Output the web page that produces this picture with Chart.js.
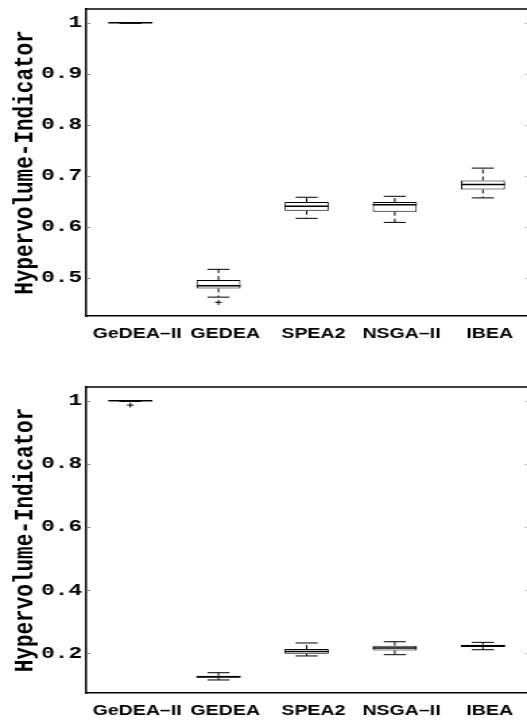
<!DOCTYPE html>
<html>
<head>
<meta charset="utf-8">
<title>Hypervolume-Indicator box plots</title>
<script src="https://cdn.jsdelivr.net/npm/chart.js@4.4.1/dist/chart.umd.min.js"></script>
<style>
  html, body { margin: 0; padding: 0; background: #fff; overflow: hidden; }
  /* the original figure is stretched sideways, so draw narrow and widen */
  .panel {
    position: absolute;
    left: 0;
    width: 391px;
    transform: scaleX(1.3478);
    transform-origin: 0 0;
  }
  #panelTop { top: 0; height: 345px; }
  #panelBottom { top: 345px; height: 377px; }
</style>
</head>
<body>
<div class="panel" id="panelTop"><canvas id="chartTop"></canvas></div>
<div class="panel" id="panelBottom"><canvas id="chartBottom"></canvas></div>

<script>
// ============================================
// DATA
// ============================================

const CATEGORIES = ['GeDEA\u2013II', 'GEDEA', 'SPEA2', 'NSGA\u2013II', 'IBEA'];

// top panel
const topLow      = [0.999, 0.462, 0.6165, 0.6085, 0.6566];
const topQ1       = [0.9995, 0.479, 0.6315, 0.6295, 0.673];
const topMedian   = [1.0, 0.4843, 0.640, 0.6432, 0.683];
const topQ3       = [1.0, 0.4955, 0.6485, 0.6485, 0.6908];
const topHigh     = [1.0, 0.5165, 0.6578, 0.6597, 0.715];
const topOutliers = [null, 0.4517, null, null, null];
const topTicks    = [0.5, 0.6, 0.7, 0.8, 0.9, 1];

// bottom panel
const bottomLow      = [0.998, 0.116, 0.192, 0.196, 0.2117];
const bottomQ1       = [0.999, 0.123, 0.199, 0.2095, 0.220];
const bottomMedian   = [1.0, 0.126, 0.206, 0.217, 0.224];
const bottomQ3       = [1.0, 0.129, 0.214, 0.2245, 0.2275];
const bottomHigh     = [1.0, 0.139, 0.233, 0.237, 0.235];
const bottomOutliers = [0.986, null, null, null, null];
const bottomTicks    = [0.2, 0.4, 0.6, 0.8, 1];

// ============================================
// STYLE
// ============================================

const MONO = "'Liberation Mono', 'DejaVu Sans Mono', monospace";
const SANS = "'Liberation Sans', Arial, sans-serif";
const INK = '#000';

// ============================================
// PLUGINS
// ============================================

/**
 * Whiskers, caps and median line on top of the floating bars
 */
const boxWhiskers = {
  id: 'boxWhiskers',
  afterDatasetsDraw(chart) {
    const ds = chart.data.datasets[0];
    const meta = chart.getDatasetMeta(0);
    const y = chart.scales.y;
    const ctx = chart.ctx;

    const line = (x1, y1, x2, y2) => {
      ctx.beginPath();
      ctx.moveTo(x1, y1);
      ctx.lineTo(x2, y2);
      ctx.stroke();
    };

    ctx.save();
    ctx.strokeStyle = INK;
    meta.data.forEach((bar, i) => {
      const x = bar.x;
      const half = bar.width / 2;
      const cap = half / 2;
      const yLow = y.getPixelForValue(ds.low[i]);
      const yQ1 = y.getPixelForValue(ds.data[i][0]);
      const yQ3 = y.getPixelForValue(ds.data[i][1]);
      const yHigh = y.getPixelForValue(ds.high[i]);
      const yMed = y.getPixelForValue(ds.median[i]);

      // dashed whiskers
      ctx.lineWidth = 1;
      ctx.setLineDash([4, 3]);
      line(x, yQ3, x, yHigh);
      line(x, yQ1, x, yLow);
      ctx.setLineDash([]);

      // caps
      line(x - cap, yHigh, x + cap, yHigh);
      line(x - cap, yLow, x + cap, yLow);

      // median
      ctx.lineWidth = 1.5;
      line(x - half, yMed, x + half, yMed);
    });
    ctx.restore();
  }
};

/**
 * Top edge of the frame and the small inward ticks at both sides
 */
const frame = {
  id: 'frame',
  afterDraw(chart) {
    const { left, right, top } = chart.chartArea;
    const ctx = chart.ctx;
    const y = chart.scales.y;
    ctx.save();
    ctx.strokeStyle = INK;
    ctx.lineWidth = 1.5;
    ctx.beginPath();
    ctx.moveTo(left, top);
    ctx.lineTo(right + 2, top);
    ctx.stroke();

    ctx.lineWidth = 1;
    y.ticks.forEach(t => {
      const py = Math.round(y.getPixelForValue(t.value)) + 0.5;
      ctx.strokeStyle = '#888';
      ctx.beginPath();
      ctx.moveTo(left, py);
      ctx.lineTo(left + 3, py);
      ctx.stroke();
      ctx.strokeStyle = '#ccc';
      ctx.beginPath();
      ctx.moveTo(right - 2, py);
      ctx.lineTo(right, py);
      ctx.stroke();
    });
    ctx.restore();
  }
};

// ============================================
// CHART FACTORY
// ============================================

function buildBoxChart(canvasId, stats, range, ticks, padTop) {
  const ctx = document.getElementById(canvasId).getContext('2d');

  return new Chart(ctx, {
    type: 'bar',
    data: {
      labels: CATEGORIES,
      datasets: [
        {
          label: 'box',
          data: stats.q1.map((v, i) => [v, stats.q3[i]]),
          low: stats.low,
          median: stats.median,
          high: stats.high,
          backgroundColor: '#fff',
          borderColor: INK,
          borderWidth: 1,
          borderSkipped: false,
          categoryPercentage: 1,
          barPercentage: 0.5
        },
        {
          type: 'line',
          label: 'outliers',
          data: stats.outliers,
          showLine: false,
          pointStyle: 'cross',
          pointRadius: 2.5,
          pointBorderWidth: 1,
          borderColor: INK,
          backgroundColor: INK
        }
      ]
    },
    options: {
      responsive: true,
      maintainAspectRatio: false,
      animation: false,
      layout: {
        autoPadding: false,
        padding: { top: padTop, right: 0, bottom: 0, left: 0 }
      },
      plugins: {
        legend: { display: false },
        tooltip: { enabled: false }
      },
      scales: {
        x: {
          type: 'category',
          offset: true,
          grid: { display: false, drawTicks: false },
          border: { display: true, color: INK, width: 1.5 },
          ticks: {
            color: INK,
            font: { family: SANS, size: 14.5, weight: 'bold' },
            padding: 9,
            labelOffset: 5,
            autoSkip: false,
            maxRotation: 0,
            minRotation: 0
          },
          afterFit: (scale) => {
            scale.height = 29;
            scale.paddingLeft = 0;
            scale.paddingRight = 0;
          }
        },
        y: {
          position: 'left',
          min: range[0],
          max: range[1],
          grid: { display: false, drawTicks: false },
          border: { display: true, color: INK, width: 1.5 },
          afterBuildTicks: (scale) => {
            scale.ticks = ticks.map(v => ({ value: v }));
          },
          ticks: {
            color: INK,
            font: { family: MONO, size: 17, weight: 'bold' },
            padding: 3,
            callback: (v) => String(v)
          },
          title: {
            display: true,
            text: 'Hypervolume-Indicator',
            color: INK,
            font: { family: MONO, size: 21, weight: 'bold', lineHeight: 1.2 },
            padding: { top: 6, bottom: 0 }
          },
          afterFit: (scale) => {
            scale.width = 64;
            scale.paddingTop = 0;
            scale.paddingBottom = 0;
          }
        }
      }
    },
    plugins: [boxWhiskers, frame]
  });
}

// ============================================
// INITIALIZATION
// ============================================

buildBoxChart('chartTop', {
  low: topLow, q1: topQ1, median: topMedian, q3: topQ3, high: topHigh, outliers: topOutliers
}, [0.425, 1.027], topTicks, 9);

buildBoxChart('chartBottom', {
  low: bottomLow, q1: bottomQ1, median: bottomMedian, q3: bottomQ3, high: bottomHigh, outliers: bottomOutliers
}, [0.0747, 1.0434], bottomTicks, 42);
</script>
</body>
</html>
